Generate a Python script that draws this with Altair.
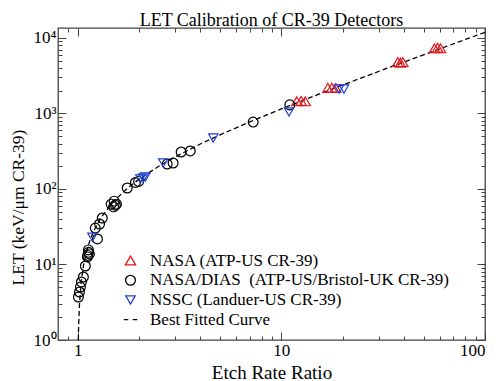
import altair as alt
import pandas as pd

# ---- data ----
curve_x = [1.0065, 1.01, 1.02, 1.04, 1.07, 1.1, 1.15, 1.2, 1.3, 1.5, 1.75, 2.0, 2.5, 3.0,
           4.0, 5.0, 7.0, 10.0, 15.0, 20.0, 30.0, 40.0, 60.0, 80.0, 100.0]
curve_y = [1.0, 1.51, 2.98, 5.86, 10.1, 14.3, 21.2, 28.1, 41.7, 68.7, 102, 135, 200, 265,
           394, 522, 774, 1150, 1769, 2383, 3599, 4805, 7193, 9558, 11914]

nasa_x = [56.5, 58.5, 60.5, 37.3, 38.4, 39.5, 16.9, 17.7, 18.5, 11.9, 12.5, 13.1]
nasa_y = [7300, 7450, 7300, 4800, 4700, 4800, 2180, 2200, 2180, 1450, 1470, 1450]

dias_x = [11.0, 7.27, 3.57, 3.22, 2.94, 2.75, 1.99, 1.92, 1.75, 1.46, 1.51, 1.55, 1.50, 1.53,
          1.32, 1.28, 1.22, 1.25, 1.128, 1.14, 1.116, 1.13, 1.12, 1.09, 1.066, 1.043, 1.031,
          1.02, 1.008]
dias_y = [1300, 770, 319, 309, 221, 214, 126, 122, 103, 63, 69, 63, 58, 61,
          41.3, 34.4, 30.4, 21.8, 15.6, 13.8, 12.6, 14.5, 13.2, 9.55, 6.83, 5.87, 5.03,
          4.32, 3.71]

nssc_x = [10.9, 19.2, 20.3, 4.63, 2.63, 2.03, 2.10, 2.15, 1.18]
nssc_y = [1050, 2110, 2110, 473, 221, 136, 140, 144, 23]

series_names = ["NASA (ATP-US CR-39)",
                "NASA/DIAS\u00a0 (ATP-US/Bristol-UK CR-39)",
                "NSSC (Landuer-US CR-39)",
                "Best Fitted Curve"]
series_colors = ["#e3161b", "#000000", "#1c3fd0", "#000000"]
series_shapes = ["triangle-up", "circle", "triangle-down", "M-1.5,0H-0.5M0.5,0H1.5"]
series_sizes = [105, 80, 105, 100]

x_major = [1, 10, 100]
x_minor = [0.9, 2, 3, 4, 5, 6, 7, 8, 9, 20, 30, 40, 50, 60, 70, 80, 90]
y_major = [1, 10, 100, 1000, 10000]
y_minor = [m * d for d in [1, 10, 100, 1000] for m in range(2, 10)]

# ---- frames ----
curve_df = pd.DataFrame({"x": curve_x, "y": curve_y})
pts = pd.concat([
    pd.DataFrame({"x": nasa_x, "y": nasa_y, "s": series_names[0]}),
    pd.DataFrame({"x": dias_x, "y": dias_y, "s": series_names[1]}),
    pd.DataFrame({"x": nssc_x, "y": nssc_y, "s": series_names[2]}),
], ignore_index=True)

FONT = "Liberation Serif"
FRAME = "#444444"

xs = alt.Scale(type="log", domain=[0.8, 100], nice=False)
ys = alt.Scale(type="log", domain=[1, 13560], nice=False)


def tick_axis(orient, values, size):
    return alt.Axis(orient=orient, values=values, tickSize=size, offset=-size,
                    labels=False, domain=False, grid=False, title=None,
                    tickColor=FRAME, tickWidth=1)


# curve with label axes
curve = alt.Chart(curve_df).mark_line(
    color="black", strokeDash=[5, 3], strokeWidth=1.3
).encode(
    x=alt.X("x:Q", scale=xs, axis=alt.Axis(
        orient="bottom", values=x_major, ticks=False, domain=False, grid=False,
        format="d", labelFont=FONT, labelFontSize=17, labelColor="black",
        labelPadding=2, title="Etch Rate Ratio", titleFont=FONT, titleFontSize=19,
        titleFontWeight="normal", titleColor="black", titleY=38,
        titleBaseline="alphabetic")),
    y=alt.Y("y:Q", scale=ys, axis=alt.Axis(
        orient="left", values=y_major, ticks=False, domain=False, grid=False,
        labelExpr="'10' + ['\u2070','\u00b9','\u00b2','\u00b3','\u2074'][round(log(datum.value)/LN10)]",
        labelFont=FONT, labelFontSize=17, labelColor="black", labelPadding=2,
        title="LET (keV/\u03bcm CR-39)", titleFont=FONT, titleFontSize=17.5,
        titleFontWeight="normal", titleColor="black", titleX=-40, titleY=179,
        titleAngle=-90, titleAlign="center", titleBaseline="middle")),
    order=alt.Order("x:Q"),
)

points = alt.Chart(pts).mark_point(filled=False, strokeWidth=1.2, opacity=1).encode(
    x=alt.X("x:Q", scale=xs, axis=tick_axis("bottom", x_major, 8)),
    y=alt.Y("y:Q", scale=ys, axis=tick_axis("left", y_major, 8)),
    color=alt.Color("s:N", scale=alt.Scale(domain=series_names, range=series_colors),
                    legend=alt.Legend(title=None, orient="none", legendX=64, legendY=224,
                                      symbolSize=100, symbolStrokeWidth=1.3,
                                      labelFont=FONT, labelFontSize=17,
                                      labelColor="black", labelOffset=11, labelLimit=0,
                                      rowPadding=1.7, padding=0, symbolType="circle")),
    shape=alt.Shape("s:N", scale=alt.Scale(domain=series_names, range=series_shapes)),
    size=alt.Size("s:N", scale=alt.Scale(domain=series_names, range=series_sizes), legend=None),
)

inv = dict(opacity=0)
l_minor = alt.Chart(curve_df).mark_point(**inv).encode(
    x=alt.X("x:Q", scale=xs, axis=tick_axis("bottom", x_minor, 4)),
    y=alt.Y("y:Q", scale=ys, axis=tick_axis("left", y_minor, 4)),
)
t_major = alt.Chart(curve_df).mark_point(**inv).encode(
    x=alt.X("x:Q", scale=xs, axis=tick_axis("top", x_major, 8)),
    y=alt.Y("y:Q", scale=ys, axis=tick_axis("right", y_major, 8)),
)
t_minor = alt.Chart(curve_df).mark_point(**inv).encode(
    x=alt.X("x:Q", scale=xs, axis=tick_axis("top", x_minor, 4)),
    y=alt.Y("y:Q", scale=ys, axis=tick_axis("right", y_minor, 4)),
)

chart = alt.layer(curve, points, l_minor, t_major, t_minor).resolve_axis(
    x="independent", y="independent"
).properties(
    width=427, height=312,
    autosize=alt.AutoSizeParams(type="none"),
    padding={"left": 50, "top": 20, "right": 7, "bottom": 41},
    title=alt.TitleParams("LET Calibration of CR-39 Detectors", font=FONT, fontSize=18,
                          fontWeight="normal", color="black", offset=7, dy=23,
                          baseline="alphabetic"),
).configure_view(stroke=FRAME, strokeWidth=1.3)

chart.save("out.html", embed_options={"renderer": "svg", "actions": False})
